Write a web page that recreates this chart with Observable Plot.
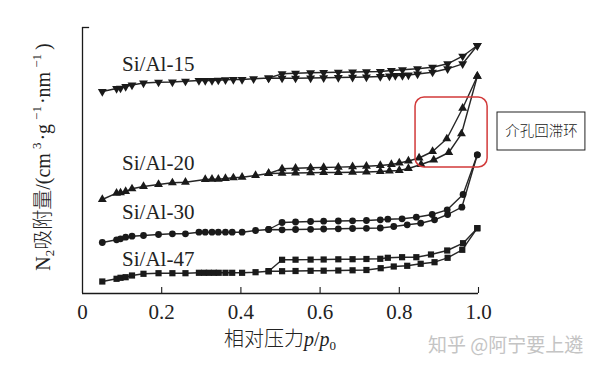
<!DOCTYPE html>
<html><head><meta charset="utf-8">
<script src="https://cdn.jsdelivr.net/npm/d3@7"></script>
<script src="https://cdn.jsdelivr.net/npm/@observablehq/plot@0.6"></script>
<style>
body{margin:0;background:#fff;}
#chart{position:relative;width:600px;height:369px;overflow:hidden;}
</style></head><body><div id="chart"></div>
<script>
// ---- data (arbitrary adsorbed-volume units) ----
const sampleNames = ["Si/Al-15", "Si/Al-20", "Si/Al-30", "Si/Al-47"];
const xTicks = [0, 0.2, 0.4, 0.6, 0.8, 1.0];
const xTickLabels = ["0", "0.2", "0.4", "0.6", "0.8", "1.0"];
const annotationText = "介孔回滞环";
const watermarkText = "知乎 @阿宁要上遴";

// adsorption / desorption branches [p/p0, amount]
const ads15 = [[0.05,202],[0.086,205],[0.096,205.3],[0.109,207],[0.125,208.5],[0.154,210.5],[0.192,211.3],[0.227,211.5],[0.26,212.3],[0.294,213],[0.31,213],[0.327,213],[0.343,213.3],[0.361,213.7],[0.381,214],[0.403,214],[0.432,214.7],[0.47,215.5],[0.504,215.3],[0.538,215.3],[0.576,215.5],[0.609,215.7],[0.646,216],[0.682,216.2],[0.717,216.5],[0.752,217],[0.775,217.5],[0.79,218],[0.808,218],[0.823,218.5],[0.846,219.5],[0.884,221.3],[0.922,224.7],[0.96,229.7],[0.997,248]];
const des15 = [[0.997,248],[0.96,237.3],[0.922,229.7],[0.884,226.3],[0.846,224.7],[0.808,223.7],[0.78,223],[0.752,222],[0.717,221.7],[0.682,221.5],[0.646,221.3],[0.609,221],[0.576,220.7],[0.538,220.3],[0.504,219.7],[0.47,215.5]];

const ads20 = [[0.05,94],[0.086,100.3],[0.096,100.7],[0.109,102],[0.125,104.7],[0.154,107],[0.192,109],[0.227,110.7],[0.26,111.3],[0.31,114],[0.327,114.3],[0.343,114.3],[0.361,115],[0.381,115.7],[0.403,116.3],[0.437,118],[0.47,120],[0.504,120.3],[0.538,120.5],[0.576,120.7],[0.609,121],[0.646,121],[0.682,121.3],[0.717,121.5],[0.752,122],[0.775,122.5],[0.8,123],[0.823,125],[0.855,129],[0.887,133.5],[0.925,141],[0.957,159.7],[0.997,217.3]];
const des20 = [[0.997,217.3],[0.96,185.3],[0.92,154.7],[0.884,142],[0.85,135.5],[0.823,132.5],[0.8,130.5],[0.78,129],[0.752,128],[0.717,127.3],[0.682,126.8],[0.646,126.4],[0.609,126],[0.576,125.7],[0.538,125.3],[0.504,124.7],[0.47,120]];

const ads30 = [[0.05,51],[0.086,53.7],[0.096,54.7],[0.109,56.3],[0.125,57.3],[0.154,58],[0.192,59],[0.227,59.7],[0.26,59.7],[0.294,61.3],[0.31,61.3],[0.327,61.3],[0.343,61.3],[0.361,61.3],[0.378,61.3],[0.403,61.3],[0.437,63],[0.47,64],[0.504,63.7],[0.538,64],[0.576,64.2],[0.609,64.5],[0.646,64.7],[0.682,65],[0.717,65.2],[0.752,65.5],[0.786,67],[0.82,68.7],[0.854,70.3],[0.889,73.7],[0.922,79],[0.958,86.3],[0.997,138.7]];
const des30 = [[0.997,138.7],[0.961,99],[0.921,83.7],[0.883,79],[0.843,76.3],[0.807,74.7],[0.771,74.3],[0.752,73.7],[0.717,73],[0.682,72.7],[0.646,72.5],[0.609,72.3],[0.576,72],[0.538,71.5],[0.504,71],[0.47,64]];

const ads47 = [[0.05,12],[0.086,14.7],[0.096,15.7],[0.109,16.3],[0.125,18],[0.154,19.7],[0.192,20.3],[0.227,20.3],[0.26,20.3],[0.294,20.7],[0.307,20.7],[0.319,20.7],[0.332,20.7],[0.344,20.7],[0.361,20.7],[0.378,20.7],[0.403,20.7],[0.437,21.3],[0.47,22.3],[0.504,22.3],[0.538,22.5],[0.576,22.7],[0.609,22.8],[0.646,23],[0.682,23.2],[0.717,23.5],[0.753,25.3],[0.786,27],[0.82,27.7],[0.854,29.7],[0.889,31.3],[0.922,35.7],[0.959,43.7],[0.997,65.3]];
const des47 = [[0.997,65.3],[0.961,50.3],[0.921,43],[0.88,39],[0.843,36.3],[0.807,36.3],[0.771,35.7],[0.752,34.7],[0.717,34.5],[0.682,34.3],[0.646,34.2],[0.609,34],[0.576,33.9],[0.538,33.8],[0.504,33.7],[0.47,22.3]];

// ---- build table ----
const branches = [
  [sampleNames[0], "ads", ads15], [sampleNames[0], "des", des15],
  [sampleNames[1], "ads", ads20], [sampleNames[1], "des", des20],
  [sampleNames[2], "ads", ads30], [sampleNames[2], "des", des30],
  [sampleNames[3], "ads", ads47], [sampleNames[3], "des", des47]
];
const rows = branches.flatMap(([s, b, arr]) => arr.map(([p, v]) => ({sample: s, branch: b, key: s + b, p, v})));
const of = s => rows.filter(d => d.sample === s);

const serif = "'Liberation Serif','Times New Roman','Noto Sans CJK SC',serif";
const cjk = "'Noto Sans CJK SC',sans-serif";
const ink = "#1a1a1a";

const plot = Plot.plot({
  width: 600, height: 369,
  marginLeft: 82, marginRight: 122, marginTop: 27, marginBottom: 76,
  x: {domain: [0, 1], axis: null},
  y: {domain: [0, 266], axis: null},
  style: {fontFamily: serif, background: "white", overflow: "visible"},
  marks: [
    // frame
    Plot.ruleY([0], {x1: 0, x2: 1, stroke: ink, strokeWidth: 1.3}),
    Plot.ruleX([0], {y1: 0, y2: 266, stroke: ink, strokeWidth: 1.3}),
    Plot.ruleY([266], {x1: 0, x2: 0.018, stroke: ink, strokeWidth: 1.3}),
    Plot.ruleX(xTicks.slice(1), {y1: 0, y2: 6, stroke: ink, strokeWidth: 1.1}),
    Plot.text(xTicks, {x: d => d, y: 0, dy: 19, text: (d, i) => xTickLabels[i], fontSize: 21, fill: "#222", lineAnchor: "middle"}),
    // lines
    Plot.line(rows, {x: "p", y: "v", z: "key", stroke: "#262626", strokeWidth: 1.4, curve: "linear"}),
    // markers
    Plot.dot(of(sampleNames[0]), {x: "p", y: "v", symbol: "triangle", rotate: 180, r: 3.3, fill: ink, stroke: "none"}),
    Plot.dot(of(sampleNames[1]), {x: "p", y: "v", symbol: "triangle", r: 3.3, fill: ink, stroke: "none"}),
    Plot.dot(of(sampleNames[2]), {x: "p", y: "v", symbol: "circle", r: 3.4, fill: ink, stroke: "none"}),
    Plot.dot(of(sampleNames[3]), {x: "p", y: "v", symbol: "square", r: 3.5, fill: ink, stroke: "none"}),
    // sample labels
    Plot.text([sampleNames[0]], {x: 0.1, y: 229, text: d => d, textAnchor: "start", fontSize: 21, fill: "#222"}),
    Plot.text([sampleNames[1]], {x: 0.1, y: 130, text: d => d, textAnchor: "start", fontSize: 21, fill: "#222"}),
    Plot.text([sampleNames[2]], {x: 0.1, y: 81, text: d => d, textAnchor: "start", fontSize: 21, fill: "#222"}),
    Plot.text([sampleNames[3]], {x: 0.1, y: 34, text: d => d, textAnchor: "start", fontSize: 21, fill: "#222"}),
    // hysteresis annotation
    Plot.rect([0], {x1: 0.841, x2: 1.023, y1: 126, y2: 196, rx: 9, fill: "none", stroke: "#d23a3a", strokeWidth: 1.5}),
    Plot.rect([0], {x1: 1.048, x2: 1.270, y1: 143, y2: 181, fill: "white", stroke: "#222", strokeWidth: 1}),
    Plot.text([annotationText], {x: 1.159, y: 162, text: d => d, fontSize: 14.5, fill: "#222", fontFamily: cjk, fontWeight: 300})
  ]
});

const svg = d3.select(plot);
const sx = plot.scale("x"), sy = plot.scale("y");

// x-axis title
const xt = svg.append("text")
  .attr("x", sx.apply(0.5)).attr("y", 346)
  .attr("text-anchor", "middle")
  .attr("font-size", 20).attr("fill", "#222").attr("font-family", serif);
xt.append("tspan").attr("font-family", cjk).attr("font-weight", 300).text("相对压力");
xt.append("tspan").attr("font-style", "italic").text("p");
xt.append("tspan").text("/");
xt.append("tspan").attr("font-style", "italic").text("p");
xt.append("tspan").attr("font-size", 13).attr("dy", 4).text("0");

// y-axis title (rotated)
const cy = sy.apply(136);
const yt = svg.append("text")
  .attr("transform", `translate(50,${cy}) rotate(-90)`)
  .attr("text-anchor", "middle")
  .attr("font-size", 20).attr("fill", "#222").attr("font-family", serif);
yt.append("tspan").text("N");
yt.append("tspan").attr("font-size", 13).attr("dy", 4).text("2");
yt.append("tspan").attr("dy", -4).attr("font-family", cjk).attr("font-weight", 300).attr("fill", "#222").text("吸附量");
yt.append("tspan").text("/(cm");
yt.append("tspan").attr("font-size", 13).attr("dy", -9).attr("dx", 4).text("3");
yt.append("tspan").attr("dy", 9).attr("dx", 2).text("·g");
yt.append("tspan").attr("font-size", 13).attr("dy", -9).attr("dx", 4).text("−1");
yt.append("tspan").attr("dy", 9).attr("dx", 2).text("·nm");
yt.append("tspan").attr("font-size", 13).attr("dy", -9).attr("dx", 4).text("−1");
yt.append("tspan").attr("dy", 9).attr("dx", 4).text(")");

// watermark
svg.append("text").attr("x", 428).attr("y", 352)
  .attr("text-anchor", "start")
  .attr("font-size", 19).attr("fill", "#c4c4c4")
  .attr("font-family", cjk)
  .text(watermarkText);

document.getElementById("chart").appendChild(plot);
</script></body></html>
